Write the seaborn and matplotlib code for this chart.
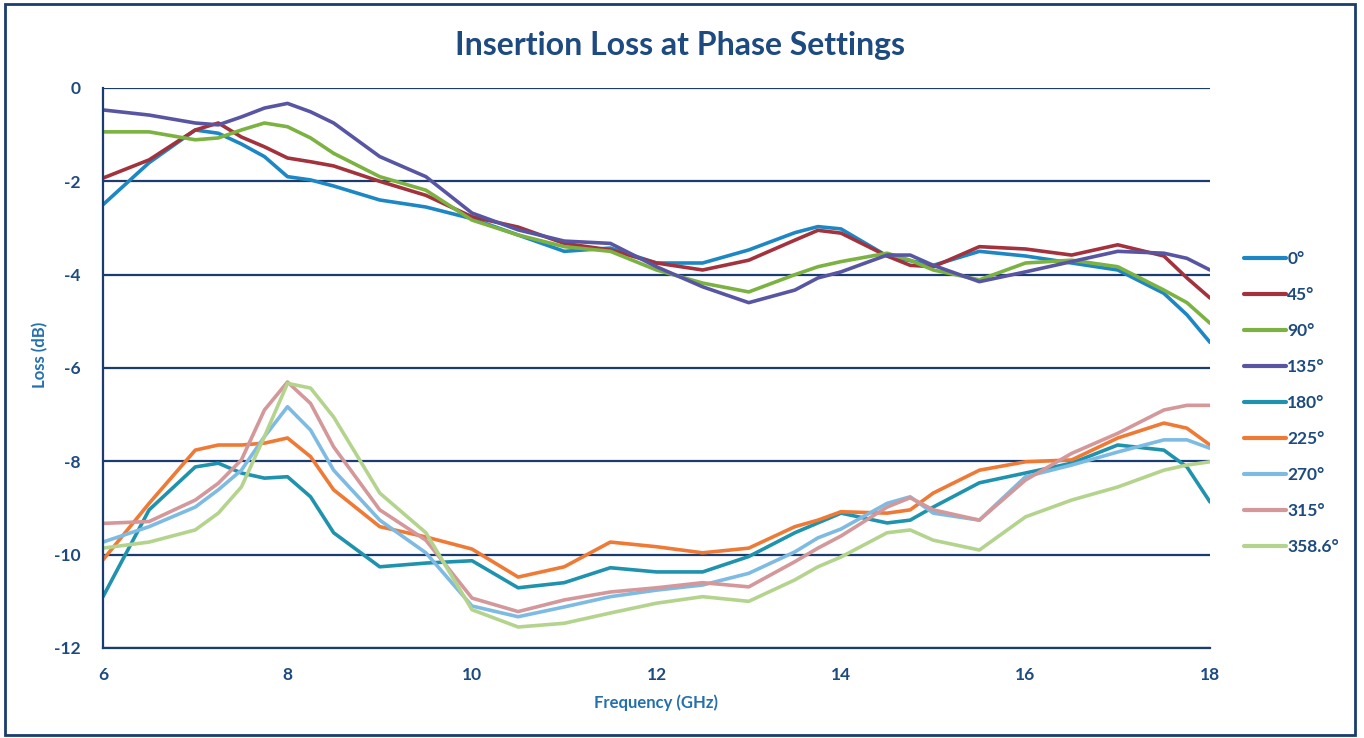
import numpy as np
import pandas as pd
import seaborn as sns
import matplotlib
matplotlib.use("Agg")
import matplotlib.pyplot as plt
from matplotlib.patches import Rectangle

# frequencies (GHz) the curves were read at
freq = [6, 6.5, 7, 7.25, 7.5, 7.75, 8, 8.25, 8.5, 9, 9.5, 10, 10.5, 11, 11.5,
        12, 12.5, 13, 13.5, 13.75, 14, 14.5, 14.75, 15, 15.5, 16, 16.5, 17,
        17.5, 17.75, 18]

# insertion loss (dB), one list per phase setting
loss_0 = [-2.5, -1.6, -0.9, -0.97, -1.2, -1.47, -1.9, -1.97, -2.1, -2.4, -2.55,
          -2.8, -3.15, -3.5, -3.43, -3.75, -3.75, -3.47, -3.1, -2.97, -3.02,
          -3.6, -3.7, -3.8, -3.5, -3.6, -3.75, -3.9, -4.4, -4.86, -5.45]
loss_45 = [-1.93, -1.54, -0.9, -0.75, -1.05, -1.26, -1.5, -1.58, -1.67, -2.0,
           -2.3, -2.76, -2.98, -3.33, -3.47, -3.75, -3.9, -3.69, -3.26, -3.05,
           -3.11, -3.6, -3.8, -3.83, -3.4, -3.45, -3.58, -3.36, -3.6, -4.07, -4.5]
loss_90 = [-0.94, -0.94, -1.11, -1.07, -0.9, -0.75, -0.83, -1.07, -1.4, -1.9,
           -2.19, -2.83, -3.15, -3.4, -3.5, -3.9, -4.18, -4.37, -4.0, -3.83,
           -3.72, -3.54, -3.69, -3.9, -4.11, -3.75, -3.69, -3.83, -4.33, -4.6, -5.04]
loss_135 = [-0.47, -0.58, -0.75, -0.79, -0.62, -0.43, -0.33, -0.51, -0.75,
            -1.47, -1.9, -2.68, -3.04, -3.28, -3.33, -3.83, -4.26, -4.6, -4.33,
            -4.07, -3.94, -3.58, -3.58, -3.8, -4.15, -3.94, -3.72, -3.5, -3.54,
            -3.65, -3.9]
loss_180 = [-10.9, -9.04, -8.12, -8.04, -8.25, -8.36, -8.33, -8.76, -9.53,
            -10.26, -10.18, -10.13, -10.71, -10.6, -10.28, -10.37, -10.37,
            -10.04, -9.53, -9.32, -9.11, -9.32, -9.26, -8.98, -8.46, -8.25,
            -8.04, -7.65, -7.76, -8.12, -8.87]
loss_225 = [-10.11, -8.9, -7.76, -7.65, -7.65, -7.61, -7.5, -7.9, -8.61, -9.4,
            -9.62, -9.88, -10.48, -10.26, -9.73, -9.83, -9.96, -9.86, -9.4,
            -9.26, -9.08, -9.11, -9.04, -8.68, -8.19, -8.01, -7.97, -7.5, -7.18,
            -7.29, -7.65]
loss_270 = [-9.73, -9.4, -8.98, -8.61, -8.19, -7.47, -6.83, -7.33, -8.19, -9.26,
            -9.96, -11.1, -11.33, -11.12, -10.9, -10.76, -10.65, -10.4, -9.94,
            -9.64, -9.45, -8.9, -8.76, -9.11, -9.26, -8.33, -8.08, -7.8, -7.54,
            -7.54, -7.72]
loss_315 = [-9.33, -9.29, -8.83, -8.47, -7.97, -6.9, -6.3, -6.76, -7.69, -9.04,
            -9.69, -10.93, -11.22, -10.97, -10.8, -10.71, -10.6, -10.69, -10.15,
            -9.86, -9.6, -8.98, -8.78, -9.04, -9.26, -8.4, -7.83, -7.4, -6.9,
            -6.8, -6.8]
loss_3586 = [-9.86, -9.73, -9.47, -9.11, -8.55, -7.47, -6.33, -6.43, -7.05,
             -8.68, -9.53, -11.18, -11.55, -11.47, -11.25, -11.04, -10.9, -11.0,
             -10.54, -10.26, -10.05, -9.53, -9.47, -9.69, -9.9, -9.19, -8.83,
             -8.55, -8.19, -8.08, -8.01]

phases = ["0°", "45°", "90°", "135°", "180°", "225°", "270°", "315°", "358.6°"]
colors = ["#1c87c4", "#a3323d", "#7bb241", "#5856a3", "#1f93ad",
          "#ef7a35", "#7ebbe2", "#d4979a", "#b4d48e"]
series = [loss_0, loss_45, loss_90, loss_135, loss_180,
          loss_225, loss_270, loss_315, loss_3586]

df = pd.concat([pd.DataFrame({"Frequency": freq, "Loss": s, "Phase": p})
                for p, s in zip(phases, series)], ignore_index=True)

sns.set_style("white")
plt.rcParams["font.family"] = ["Lato", "DejaVu Sans"]
plt.rcParams["axes.unicode_minus"] = False

navy = "#1b3c6e"
txt = "#1d4a80"
lab = "#2470ae"

fig = plt.figure(figsize=(13.64, 7.38), dpi=100)
ax = fig.add_axes([103 / 1364, 1 - 648 / 738, 1107 / 1364, 560 / 738])

sns.lineplot(data=df, x="Frequency", y="Loss", hue="Phase", hue_order=phases,
             palette=dict(zip(phases, colors)), linewidth=2.6, ax=ax,
             estimator=None, sort=True)

ax.set_xlim(6, 18)
ax.set_ylim(-12, 0)
ax.set_xticks([6, 8, 10, 12, 14, 16, 18])
ax.set_yticks([0, -2, -4, -6, -8, -10, -12])
ax.yaxis.grid(True, color=navy, linewidth=1.6)
ax.xaxis.grid(False)
ax.set_axisbelow(True)
for side in ["top", "right"]:
    ax.spines[side].set_visible(False)
for side in ["left", "bottom"]:
    ax.spines[side].set_color(navy)
    ax.spines[side].set_linewidth(1.6)
ax.tick_params(axis="x", length=0, pad=14, labelsize=12.5, labelcolor=txt)
ax.tick_params(axis="y", length=0, pad=16, labelsize=12.5, labelcolor=txt)
for t in ax.get_xticklabels() + ax.get_yticklabels():
    t.set_fontweight("bold")
ax.set_xlabel("")
ax.set_ylabel("")

fig.text(656 / 1364, 1 - 703 / 738, "Frequency (GHz)", ha="center", va="center",
         fontsize=12, fontweight="bold", color=lab)
fig.text(40 / 1364, 1 - 355 / 738, "Loss (dB)", ha="center", va="center",
         rotation=90, fontsize=12, fontweight="bold", color=lab)
fig.text(680 / 1364, 1 - 45 / 738, "Insertion Loss at Phase Settings",
         ha="center", va="center", fontsize=23, fontweight="bold", color=txt)

leg = ax.legend(loc="center left", bbox_to_anchor=(1244 / 1364, 1 - 403 / 738),
                bbox_transform=fig.transFigure, frameon=False, fontsize=12.5,
                handlelength=2.4, handletextpad=0.1, labelspacing=1.15,
                borderpad=0, borderaxespad=0)
for t in leg.get_texts():
    t.set_color(txt)
    t.set_fontweight("bold")
for h in leg.get_lines():
    h.set_linewidth(3)

fig.patches.append(Rectangle((5 / 1364, 3 / 738), 1350 / 1364, 731 / 738,
                             transform=fig.transFigure, fill=False,
                             edgecolor=navy, linewidth=2))

fig.savefig("out.png", dpi=100)
